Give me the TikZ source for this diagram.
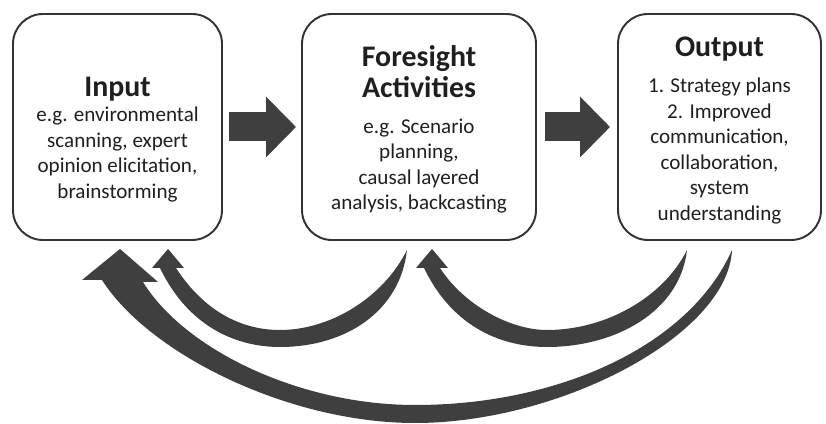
\documentclass[tikz,border=0pt]{standalone}
\usepackage{fontspec}
\setmainfont{Carlito}
\usetikzlibrary{arrows.meta}

\definecolor{boxline}{HTML}{333333}
\definecolor{flowfill}{HTML}{3F3F3F}
\definecolor{boxtext}{HTML}{1F1F1F}

\tikzset{
    stage/.style={draw=boxline, line width=1.1pt, rounded corners=0.6cm, minimum height=4.52cm, align=center, text=boxtext, font=\fontsize{12}{14.5}\selectfont},
    flow/.style={draw=flowfill, line width=0.58cm, -{Triangle[width=1.18cm, length=0.6cm]}},
    back/.style={fill=flowfill},
}
% title line, with an optional strut to push the text down
\newcommand{\stagetitle}[2][0pt]{{\fontsize{17}{17}\selectfont\bfseries\rule{0pt}{#1}#2}}

\begin{document}
\begin{tikzpicture}

    \useasboundingbox (0,0) rectangle (16.52,8.46);

    % Stages
    \node[stage, minimum width=4.18cm] (input) at (2.35,5.92) {\stagetitle[25pt]{Input}\\e.g. environmental\\scanning, expert\\opinion elicitation,\\brainstorming};
    \node[stage, minimum width=4.68cm] (fore) at (8.38,5.92) {\stagetitle[15pt]{Foresight}\\[1.5pt]\stagetitle{Activities}\\[6pt]e.g. Scenario\\planning,\\causal layered\\analysis, backcasting};
    \node[stage, minimum width=4.06cm] (output) at (14.39,5.92) {\stagetitle[15pt]{Output}\\[6pt]1. Strategy plans\\2. Improved\\communication,\\collaboration,\\system\\understanding};

    % Forward arrows
    \draw[flow, shorten <=0.12cm, shorten >=0.10cm] (input) -- (fore);
    \draw[flow, shorten <=0.16cm, shorten >=0.14cm] (fore) -- (output);

    % Feedback: Foresight -> Input
    \coordinate (fore-tail) at ([shift={(-0.24,-0.18)}]fore.south);
    \coordinate (input-tip) at ([shift={(1.01,-0.16)}]input.south);
    \fill[back] (input-tip) -- (3.68,3.10) -- (3.52,3.10)
        .. controls (4.00,2.36) and (4.70,1.86) .. (5.60,1.86)
        .. controls (6.60,1.86) and (7.66,2.50) .. (fore-tail)
        .. controls (8.00,2.22) and (6.90,1.52) .. (5.60,1.52)
        .. controls (4.80,1.52) and (3.80,1.86) .. (3.20,3.10)
        -- (3.04,3.10) -- cycle;

    % Feedback: Output -> Foresight
    \coordinate (output-tail) at ([shift={(-0.65,-0.18)}]output.south);
    \coordinate (fore-tip) at ([shift={(0.26,-0.16)}]fore.south);
    \fill[back] (fore-tip) -- (8.96,3.10) -- (8.80,3.10)
        .. controls (9.28,2.36) and (10.20,1.86) .. (10.94,1.86)
        .. controls (12.10,1.86) and (13.26,2.50) .. (output-tail)
        .. controls (13.60,2.22) and (12.30,1.52) .. (10.94,1.52)
        .. controls (10.10,1.52) and (9.08,1.86) .. (8.48,3.10)
        -- (8.32,3.10) -- cycle;

    % Feedback: Output -> Input
    \coordinate (output-tail2) at ([shift={(0.25,-0.18)}]output.south);
    \coordinate (input-tip2) at ([shift={(0.05,-0.16)}]input.south);
    \fill[back] (input-tip2) -- (3.16,2.82) -- (2.86,2.82)
        .. controls (3.70,1.46) and (6.00,0.36) .. (8.30,0.36)
        .. controls (11.20,0.36) and (13.80,1.56) .. (output-tail2)
        .. controls (14.56,1.76) and (11.20,0.00) .. (8.30,0.00)
        .. controls (5.80,0.00) and (3.00,1.36) .. (2.04,2.86)
        -- (1.64,2.86) -- cycle;

\end{tikzpicture}
\end{document}
